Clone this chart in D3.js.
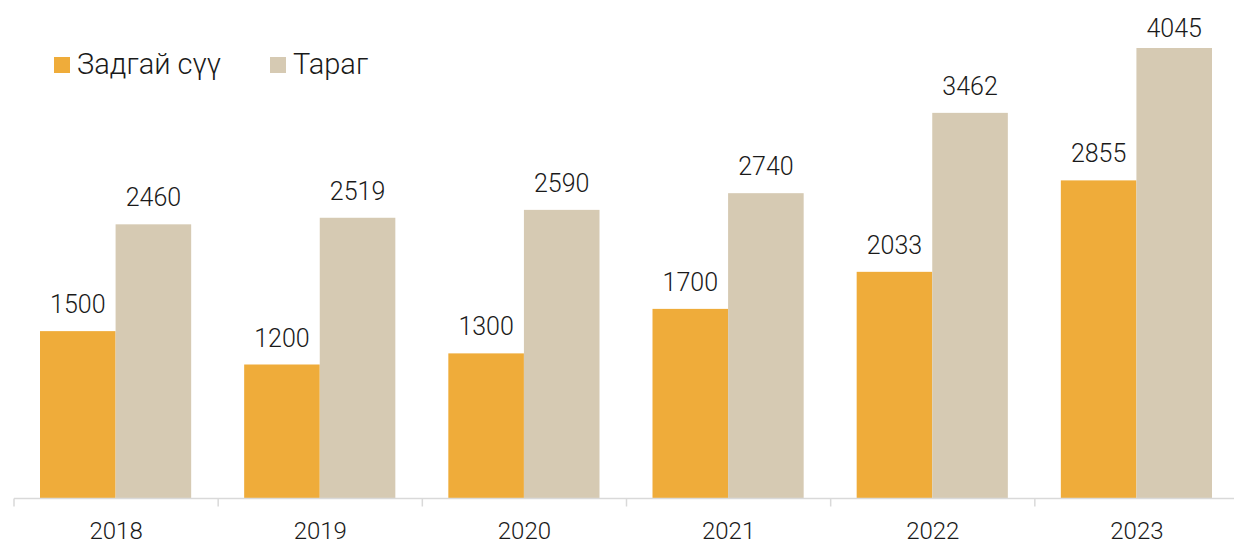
<!DOCTYPE html>
<html>
<head>
<meta charset="utf-8">
<script src="https://cdn.jsdelivr.net/npm/d3@7"></script>
<style>
  html, body { margin: 0; padding: 0; background: #fff; }
  svg { display: block; font-family: Roboto, "Noto Sans", sans-serif; }
</style>
</head>
<body>
<svg id="chart" width="1234" height="544"></svg>
<script>
// Production by year (tonnes)
const years = ["2018", "2019", "2020", "2021", "2022", "2023"];
const seriesNames = ["Задгай сүү", "Тараг"];
const milkValues = [1500, 1200, 1300, 1700, 2033, 2855];
const yogurtValues = [2460, 2519, 2590, 2740, 3462, 4045];
const seriesColors = ["#EFAC3A", "#D6CAB3"];

const rows = years.map((y, i) => ({ year: y, values: [milkValues[i], yogurtValues[i]] }));

const svg = d3.select("#chart");
const baseY = 498;
const yMax = 4045;

const x0 = d3.scaleBand().domain(years).range([14, 1239]).padding(0);
const x1 = d3.scaleBand().domain([0, 1])
  .range([26, x0.bandwidth() - 27]).padding(0);
const y = d3.scaleLinear().domain([0, yMax]).range([baseY, 48]);

// bars
const groups = svg.selectAll("g.year").data(rows).join("g")
  .attr("class", "year")
  .attr("transform", d => `translate(${x0(d.year)},0)`);

groups.selectAll("rect").data(d => d.values.map((v, k) => ({ v, k })))
  .join("rect")
  .attr("x", d => x1(d.k))
  .attr("width", x1.bandwidth())
  .attr("y", d => y(d.v))
  .attr("height", d => y(0) - y(d.v))
  .attr("fill", d => seriesColors[d.k]);

// value labels above bars, kept inside the top of the plot
groups.selectAll("text.val").data(d => d.values.map((v, k) => ({ v, k })))
  .join("text")
  .attr("class", "val")
  .attr("x", d => x1(d.k) + x1.bandwidth() / 2)
  .attr("y", d => Math.max(y(d.v) - 18, 37))
  .attr("text-anchor", "middle")
  .attr("font-size", 25)
  .attr("font-weight", 300)
  .attr("fill", "#1a1a1a")
  .text(d => d.v);

// x axis
const axis = svg.append("g").attr("transform", `translate(0,${baseY + 0.5})`);
axis.append("line")
  .attr("x1", 14).attr("x2", 1239)
  .attr("stroke", "#D9D9D9").attr("stroke-width", 1.5);
const tickPositions = years.map(yr => x0(yr)).concat([x0.range()[1]]);
axis.selectAll("line.tick").data(tickPositions).join("line")
  .attr("class", "tick")
  .attr("x1", d => d).attr("x2", d => d)
  .attr("y1", 0).attr("y2", 8)
  .attr("stroke", "#D9D9D9").attr("stroke-width", 1.5);
axis.selectAll("text").data(years).join("text")
  .attr("x", d => x0(d) + x0.bandwidth() / 2)
  .attr("y", 40)
  .attr("text-anchor", "middle")
  .attr("font-size", 24)
  .attr("font-weight", 300)
  .attr("fill", "#1a1a1a")
  .text(d => d);

// legend
const legendX = [54, 270];
const legend = svg.selectAll("g.legend").data(seriesNames).join("g")
  .attr("class", "legend")
  .attr("transform", (d, i) => `translate(${legendX[i]},57)`);
legend.append("rect")
  .attr("width", 16).attr("height", 16)
  .attr("fill", (d, i) => seriesColors[i]);
legend.append("text")
  .attr("x", 23).attr("y", 17)
  .attr("font-size", 29)
  .attr("font-weight", 300)
  .attr("fill", "#1a1a1a")
  .text(d => d);
</script>
</body>
</html>
